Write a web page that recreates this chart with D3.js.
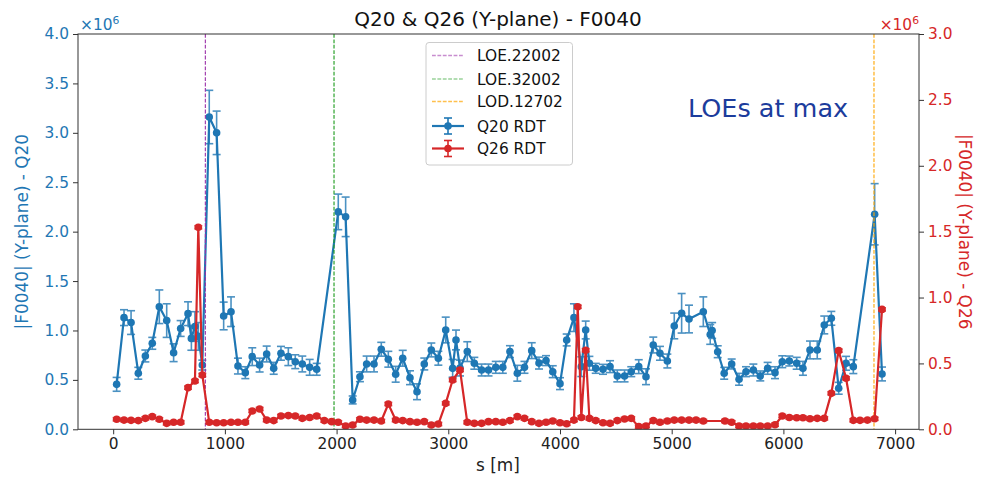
<!DOCTYPE html>
<html>
<head>
<meta charset="utf-8">
<script src="https://cdn.jsdelivr.net/npm/d3@7"></script>
<style>
  html, body { margin: 0; padding: 0; background: #fff; }
  svg text { font-family: "DejaVu Sans", sans-serif; }
</style>
</head>
<body>
<svg id="chart" width="997" height="477"></svg>
<script>
// Q20 RDT amplitude along the ring (units of 1e6)
const q20S = [31, 97, 160, 225, 288, 350, 413, 479, 541, 604, 670, 700, 732, 762, 798,
  860, 926, 989, 1055, 1117, 1183, 1245, 1311, 1374, 1437, 1502, 1568, 1630, 1693, 1759, 1822,
  2015, 2081, 2144, 2209, 2269, 2335, 2400, 2463, 2529, 2592, 2657, 2720, 2785, 2848, 2911,
  2977, 3039, 3069, 3105, 3170, 3233, 3298, 3360, 3425, 3488, 3552, 3618, 3682, 3747, 3812,
  3875, 3935, 4000, 4060, 4125, 4191, 4230, 4263, 4320, 4385, 4448, 4513, 4578, 4638, 4705,
  4770, 4835, 4895, 4961, 5023, 5089, 5155, 5283, 5345, 5362, 5412, 5470, 5537, 5603, 5665,
  5731, 5793, 5859, 5925, 5990, 6053, 6119, 6175, 6238, 6303, 6366, 6429, 6495, 6561, 6626,
  6817, 6883];
const q20Val = [0.455, 1.13, 1.08, 0.567, 0.742, 0.87, 1.24, 1.10, 0.775, 1.02, 1.17, 0.92, 1.04, 0.94, 0.65,
  3.16, 3.00, 1.147, 1.19, 0.64, 0.573, 0.735, 0.65, 0.762, 0.617, 0.769, 0.735, 0.684, 0.661, 0.627, 0.607,
  2.20, 2.15, 0.297, 0.532, 0.661, 0.661, 0.81, 0.709, 0.557, 0.719, 0.522, 0.38, 0.661, 0.803, 0.719,
  1.005, 0.617, 0.904, 0.62, 0.786, 0.668, 0.60, 0.60, 0.627, 0.627, 0.786, 0.567, 0.627, 0.796, 0.67,
  0.695, 0.583, 0.462, 0.904, 1.13, 0.634, 1.005, 0.668, 0.617, 0.607, 0.634, 0.54, 0.54, 0.583, 0.634,
  0.532, 0.853, 0.769, 0.691, 1.046, 1.174, 1.116, 1.19, 0.96, 1.0, 0.785, 0.567, 0.661, 0.506, 0.583,
  0.60, 0.54, 0.617, 0.573, 0.684, 0.691, 0.668, 0.617, 0.803, 0.803, 1.056, 1.123, 0.415, 0.668, 0.634,
  2.176, 0.56];
const q20Err = [0.07, 0.08, 0.12, 0.06, 0.06, 0.06, 0.17, 0.17, 0.09, 0.08, 0.12, 0.12, 0.15, 0.14, 0.05,
  0.27, 0.22, 0.14, 0.15, 0.08, 0.06, 0.09, 0.07, 0.08, 0.06, 0.07, 0.09, 0.07, 0.08, 0.08, 0.06,
  0.18, 0.20, 0.04, 0.05, 0.08, 0.08, 0.07, 0.08, 0.08, 0.08, 0.07, 0.08, 0.06, 0.07, 0.07,
  0.13, 0.09, 0.10, 0.08, 0.10, 0.06, 0.06, 0.06, 0.06, 0.06, 0.06, 0.08, 0.06, 0.08, 0.06,
  0.05, 0.06, 0.06, 0.06, 0.14, 0.10, 0.09, 0.07, 0.05, 0.05, 0.06, 0.06, 0.06, 0.05, 0.07,
  0.08, 0.08, 0.07, 0.07, 0.13, 0.20, 0.14, 0.15, 0.10, 0.08, 0.06, 0.06, 0.05, 0.06, 0.05,
  0.06, 0.05, 0.06, 0.06, 0.06, 0.05, 0.06, 0.07, 0.09, 0.09, 0.09, 0.07, 0.06, 0.07, 0.07,
  0.31, 0.07];

// Q26 RDT amplitude along the ring (units of 1e6)
const q26S = [31, 97, 160, 225, 288, 350, 413, 479, 541, 604, 670, 732, 762, 798,
  860, 926, 989, 1055, 1117, 1183, 1245, 1311, 1374, 1437, 1502, 1568, 1630, 1693, 1759, 1822,
  1890, 1956, 2015, 2081, 2144, 2209, 2269, 2335, 2400, 2463, 2529, 2592, 2657, 2720, 2785, 2848,
  2911, 2977, 3039, 3105, 3170, 3233, 3298, 3360, 3425, 3488, 3552, 3618, 3682, 3747, 3812,
  3875, 3935, 4000, 4060, 4125, 4159, 4191, 4230, 4263, 4320, 4385, 4448, 4513, 4578, 4638, 4705,
  4770, 4835, 4895, 4961, 5023, 5089, 5155, 5218, 5283, 5477, 5537, 5603, 5665, 5731, 5793,
  5859, 5925, 5990, 6053, 6119, 6175, 6238, 6303, 6366, 6429, 6495, 6561, 6626, 6686, 6752,
  6817, 6883];
const q26Val = [0.076, 0.07, 0.068, 0.066, 0.083, 0.096, 0.076, 0.045, 0.053, 0.053, 0.316, 0.366, 1.533, 0.412,
  0.053, 0.05, 0.05, 0.053, 0.053, 0.053, 0.139, 0.154, 0.07, 0.066, 0.101, 0.104, 0.101, 0.083, 0.09, 0.101,
  0.066, 0.058, 0.053, 0.025, 0.033, 0.076, 0.07, 0.07, 0.063, 0.192, 0.07, 0.066, 0.058, 0.053, 0.058, 0.033,
  0.04, 0.197, 0.374, 0.45, 0.053, 0.045, 0.045, 0.058, 0.058, 0.053, 0.066, 0.096, 0.083, 0.058, 0.045,
  0.053, 0.063, 0.05, 0.042, 0.07, 0.93, 0.09, 0.60, 0.083, 0.066, 0.05, 0.045, 0.066, 0.078, 0.083, 0.02,
  0.025, 0.066, 0.053, 0.063, 0.07, 0.07, 0.07, 0.07, 0.063, 0.063, 0.053, 0.025, 0.025, 0.025, 0.025,
  0.025, 0.035, 0.101, 0.09, 0.088, 0.088, 0.08, 0.083, 0.083, 0.273, 0.597, 0.387, 0.068, 0.068, 0.07,
  0.08, 0.91];
const q26Err = q26Val.map(v => 0.012);

// Marker elements along the ring
const markerNames = ["LOE.22002", "LOE.32002", "LOD.12702"];
const markerS = [825, 1977, 6811];
const markerColors = ["#9a2fa8", "#1a9a1a", "#ffa500"];
const legendOpacity = [0.55, 0.45, 0.7];

const xTicks = [0, 1000, 2000, 3000, 4000, 5000, 6000, 7000];
const leftTicks = [0, 0.5, 1.0, 1.5, 2.0, 2.5, 3.0, 3.5, 4.0];
const rightTicks = [0, 0.5, 1.0, 1.5, 2.0, 2.5, 3.0];

const BLUE = "#1f77b4", RED = "#d62728";
const FS = "15.4px";

const svg = d3.select("#chart");
const plot = { left: 78, right: 919, top: 34, bottom: 429.3 };

const x = d3.scaleLinear().domain([-315, 7214]).range([plot.left, plot.right]);
const yL = d3.scaleLinear().domain([0, 4]).range([plot.bottom, plot.top]);
const yR = d3.scaleLinear().domain([0, 3]).range([plot.bottom, plot.top]);

const q20 = q20S.map((s, i) => ({ s, v: q20Val[i], e: q20Err[i] }));
const q26 = q26S.map((s, i) => ({ s, v: q26Val[i], e: q26Err[i] }));

svg.append("clipPath").attr("id", "clip")
  .append("rect").attr("x", plot.left).attr("y", plot.top)
  .attr("width", plot.right - plot.left).attr("height", plot.bottom - plot.top);

function drawSeries(g, data, y, color) {
  const eb = g.append("g").attr("stroke", color).attr("stroke-width", 1.6).attr("opacity", 0.8);
  data.forEach(d => {
    const xp = x(d.s), y0 = y(d.v - d.e), y1 = y(d.v + d.e);
    eb.append("line").attr("x1", xp).attr("x2", xp).attr("y1", y0).attr("y2", y1);
    eb.append("line").attr("x1", xp - 4).attr("x2", xp + 4).attr("y1", y0).attr("y2", y0);
    eb.append("line").attr("x1", xp - 4).attr("x2", xp + 4).attr("y1", y1).attr("y2", y1);
  });
  g.append("path").datum(data)
    .attr("fill", "none").attr("stroke", color).attr("stroke-width", 2.2)
    .attr("stroke-linejoin", "round")
    .attr("d", d3.line().x(d => x(d.s)).y(d => y(d.v)));
  g.append("g").selectAll("circle").data(data).join("circle")
    .attr("cx", d => x(d.s)).attr("cy", d => y(d.v)).attr("r", 3.8)
    .attr("fill", color);
}

// Q20 on left axis
drawSeries(svg.append("g").attr("clip-path", "url(#clip)"), q20, yL, BLUE);

// element markers
const vg = svg.append("g");
markerS.forEach((s, i) => {
  vg.append("line").attr("x1", x(s)).attr("x2", x(s)).attr("y1", plot.top).attr("y2", plot.bottom)
    .attr("stroke", markerColors[i]).attr("stroke-width", 1.1).attr("stroke-dasharray", "3.8,1.6");
});

// Q26 on right axis
drawSeries(svg.append("g").attr("clip-path", "url(#clip)"), q26, yR, RED);

// frame
svg.append("rect").attr("x", plot.left).attr("y", plot.top)
  .attr("width", plot.right - plot.left).attr("height", plot.bottom - plot.top)
  .attr("fill", "none").attr("stroke", "#333").attr("stroke-width", 1);

// axes
function styleAxis(g, color) {
  g.select(".domain").remove();
  g.selectAll(".tick line").attr("stroke", "#333");
  g.selectAll(".tick text").attr("fill", color).attr("font-size", FS)
    .attr("font-family", "DejaVu Sans, sans-serif");
}
const fmt1 = d3.format(".1f");
svg.append("g").attr("transform", `translate(0,${plot.bottom})`)
  .call(d3.axisBottom(x).tickValues(xTicks).tickSize(5).tickPadding(4).tickFormat(d3.format("d")))
  .call(g => styleAxis(g, "#222"));
svg.append("g").attr("transform", `translate(${plot.left},0)`)
  .call(d3.axisLeft(yL).tickValues(leftTicks).tickSize(5).tickPadding(4).tickFormat(fmt1))
  .call(g => styleAxis(g, BLUE));
svg.append("g").attr("transform", `translate(${plot.right},0)`)
  .call(d3.axisRight(yR).tickValues(rightTicks).tickSize(5).tickPadding(4).tickFormat(fmt1))
  .call(g => styleAxis(g, RED));

// multiplier labels
function offsetText(xp, anchor, color) {
  const t = svg.append("text").attr("x", xp).attr("y", 30).attr("text-anchor", anchor)
    .attr("fill", color).attr("font-size", FS);
  t.append("tspan").text("×10");
  t.append("tspan").text("6").attr("font-size", "10.8px").attr("dy", -6.5);
}
offsetText(80, "start", BLUE);
offsetText(919, "end", RED);

// titles and labels
svg.append("text").attr("x", 498).attr("y", 26).attr("text-anchor", "middle")
  .attr("font-size", "20px").attr("fill", "#111").text("Q20 & Q26 (Y-plane) - F0040");
svg.append("text").attr("x", 498).attr("y", 471).attr("text-anchor", "middle")
  .attr("font-size", "16.9px").attr("fill", "#222").text("s [m]");
svg.append("text").attr("transform", `translate(28,${(plot.top + plot.bottom) / 2}) rotate(-90)`)
  .attr("text-anchor", "middle").attr("font-size", "16.9px").attr("fill", BLUE)
  .text("|F0040| (Y-plane) - Q20");
svg.append("text").attr("transform", `translate(959,${(plot.top + plot.bottom) / 2}) rotate(90)`)
  .attr("text-anchor", "middle").attr("font-size", "16.9px").attr("fill", RED)
  .text("|F0040| (Y-plane) - Q26");

// annotation
svg.append("text").attr("x", 688).attr("y", 117)
  .attr("font-family", "Liberation Sans, Arial, sans-serif").attr("font-size", "25.5px")
  .attr("fill", "#1c3c9c").text("LOEs at max");

// legend
const lg = svg.append("g");
lg.append("rect").attr("x", 426).attr("y", 42.5).attr("width", 146.5).attr("height", 122.5)
  .attr("rx", 3).attr("fill", "#fff").attr("fill-opacity", 0.8).attr("stroke", "#ccc");
const rowY = [55.5, 79, 101.5, 126, 148.5];
markerNames.forEach((n, i) => {
  lg.append("line").attr("x1", 432).attr("x2", 464).attr("y1", rowY[i]).attr("y2", rowY[i])
    .attr("stroke", markerColors[i]).attr("stroke-opacity", legendOpacity[i]).attr("stroke-width", 1.3)
    .attr("stroke-dasharray", "3.8,1.6");
  lg.append("text").attr("x", 477).attr("y", rowY[i] + 5.5).attr("font-size", FS)
    .attr("fill", "#111").text(n);
});
[["Q20 RDT", BLUE], ["Q26 RDT", RED]].forEach(([n, c], j) => {
  const yy = rowY[3 + j];
  lg.append("line").attr("x1", 432).attr("x2", 464).attr("y1", yy).attr("y2", yy)
    .attr("stroke", c).attr("stroke-width", 2.2);
  lg.append("line").attr("x1", 448).attr("x2", 448).attr("y1", yy - 8).attr("y2", yy + 8)
    .attr("stroke", c).attr("stroke-width", 1.6);
  lg.append("line").attr("x1", 444).attr("x2", 452).attr("y1", yy - 8).attr("y2", yy - 8)
    .attr("stroke", c).attr("stroke-width", 1.6);
  lg.append("line").attr("x1", 444).attr("x2", 452).attr("y1", yy + 8).attr("y2", yy + 8)
    .attr("stroke", c).attr("stroke-width", 1.6);
  lg.append("circle").attr("cx", 448).attr("cy", yy).attr("r", 3.8).attr("fill", c);
  lg.append("text").attr("x", 477).attr("y", yy + 5.5).attr("font-size", FS)
    .attr("fill", "#111").text(n);
});
</script>
</body>
</html>
